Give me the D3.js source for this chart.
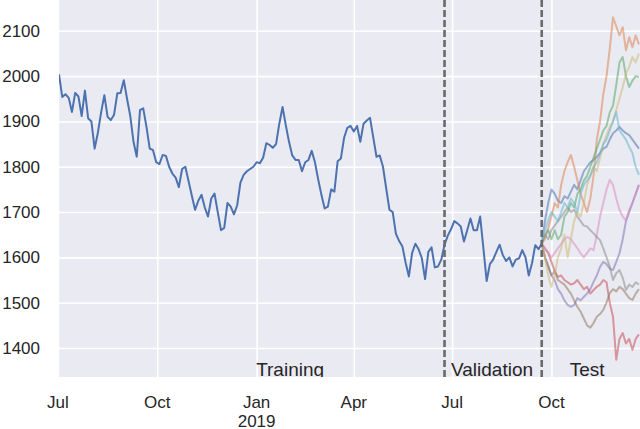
<!DOCTYPE html>
<html>
<head>
<meta charset="utf-8">
<script src="https://cdn.jsdelivr.net/npm/d3@7"></script>
<style>
  html, body { margin: 0; padding: 0; background: #ffffff; }
  svg { display: block; }
  text { font-family: "Liberation Sans", Arial, sans-serif; fill: #262626; }
</style>
</head>
<body>
<svg id="chart" width="640" height="429"></svg>
<script>
// ---------------- DATA ----------------
const seriesStart = "2018-07-02";   // first observation
const stepDays = 3;                 // spacing between observations (days)

// observed index (training + validation), one value per step
const observed = [
  2004, 1954, 1960, 1952, 1921, 1963, 1955, 1912, 1968, 1907,
  1900, 1840, 1875, 1920, 1958, 1910, 1903, 1915, 1962, 1963,
  1991, 1950, 1912, 1855, 1822, 1925, 1929, 1888, 1840, 1837,
  1810, 1806, 1826, 1824, 1800, 1785, 1776, 1755, 1795, 1800,
  1768, 1736, 1705, 1725, 1738, 1710, 1690, 1730, 1741, 1700,
  1660, 1665, 1720, 1712, 1695, 1715, 1765, 1782, 1790, 1795,
  1800, 1810, 1808, 1820, 1852, 1848, 1842, 1850, 1895, 1932,
  1892, 1855, 1825, 1815, 1815, 1790, 1810, 1815, 1835, 1810,
  1772, 1738, 1708, 1712, 1750, 1745, 1812, 1818, 1864, 1886,
  1890, 1878, 1890, 1855, 1895, 1902, 1908, 1865, 1822, 1825,
  1800, 1752, 1705, 1700, 1652, 1636, 1624, 1588, 1558, 1610,
  1630, 1618, 1598, 1552, 1612, 1622, 1578, 1580, 1595, 1628,
  1648, 1662, 1680, 1675, 1668, 1635, 1660, 1686, 1660, 1660,
  1690, 1620, 1548, 1585, 1595, 1612, 1628, 1605, 1592, 1600,
  1580, 1595, 1598, 1616, 1600, 1560, 1587, 1627, 1618, 1630
];

// simulated test paths, starting at the last observed point, same spacing
const testBlue   = [1630,1680,1720,1750,1740,1725,1720,1735,1730,1745,1760,1750,1770,1790,1800,1810,1815,1822,1830,1840,1844,1860,1874,1880,1888,1880,1874,1870,1860,1850,1840];
const testOrange = [1630,1640,1665,1690,1720,1710,1760,1790,1810,1826,1800,1770,1740,1720,1700,1730,1780,1860,1900,1960,2000,2060,2130,2110,2090,2108,2057,2086,2064,2090,2070];
const testGreen  = [1630,1650,1660,1640,1660,1640,1650,1690,1700,1720,1710,1740,1750,1770,1780,1800,1820,1840,1860,1880,1890,1920,1935,1980,2030,2042,2000,1976,1990,2000,1998];
const testRed    = [1630,1620,1610,1590,1570,1557,1560,1550,1545,1540,1543,1550,1540,1530,1535,1520,1528,1535,1540,1550,1545,1500,1469,1374,1420,1433,1410,1420,1396,1420,1430];
const testPurple = [1630,1600,1580,1560,1550,1530,1520,1505,1495,1491,1495,1510,1505,1513,1520,1530,1546,1560,1579,1590,1585,1575,1572,1590,1609,1640,1680,1700,1720,1740,1760];
const testBrown  = [1630,1600,1580,1560,1570,1550,1545,1540,1530,1520,1505,1491,1480,1465,1450,1445,1455,1469,1475,1484,1500,1521,1530,1525,1535,1530,1520,1510,1506,1520,1530];
const testPink   = [1630,1620,1610,1600,1610,1620,1630,1640,1645,1640,1630,1620,1609,1600,1610,1620,1616,1650,1690,1720,1750,1771,1760,1730,1705,1690,1682,1705,1720,1740,1760];
const testGray   = [1630,1650,1640,1660,1670,1680,1690,1700,1710,1700,1705,1690,1680,1670,1668,1660,1653,1645,1638,1620,1600,1580,1550,1565,1572,1555,1528,1540,1535,1545,1540];
const testYellow = [1630,1600,1560,1535,1560,1600,1620,1650,1600,1640,1680,1700,1690,1720,1760,1780,1800,1790,1820,1850,1870,1888,1900,1925,1950,1976,2006,2020,2042,2030,2050];
const testCyan   = [1630,1660,1682,1700,1690,1680,1700,1720,1710,1730,1720,1700,1740,1760,1770,1780,1800,1810,1830,1850,1860,1880,1900,1921,1880,1870,1860,1844,1830,1800,1782];

const testPaths  = [testBlue, testOrange, testGreen, testRed, testPurple, testBrown, testPink, testGray, testYellow, testCyan];
const testColors = ["#4C72B0","#DD8452","#55A868","#C44E52","#8172B3","#937860","#DA8BC3","#8C8C8C","#CCB974","#64B5CD"];

// split boundaries and labels
const splitDates = ["2019-06-24", "2019-09-22"];
const splitLabels = ["Training", "Validation", "Test"];
const splitLabelDates = ["2019-02-01", "2019-08-07", "2019-11-03"];

// axes
const xTickDates = ["2018-07-01", "2018-10-01", "2019-01-01", "2019-04-01", "2019-07-01", "2019-10-01"];
const xTickLabels = ["Jul", "Oct", "Jan\n2019", "Apr", "Jul", "Oct"];
const yTicks = [1400, 1500, 1600, 1700, 1800, 1900, 2000, 2100];
const xDomain = ["2018-07-02", "2019-12-22"];
const yDomain = [1336, 2168];

// ---------------- CHART ----------------
const parse = d3.timeParse("%Y-%m-%d");
const svg = d3.select("#chart");
const plot = { left: 59, right: 640, top: 0, bottom: 377 };

const x = d3.scaleTime().domain(xDomain.map(parse)).range([plot.left, plot.right]);
const y = d3.scaleLinear().domain(yDomain).range([plot.bottom, plot.top]);

const t0 = parse(seriesStart);
const dateAt = i => d3.timeDay.offset(t0, i * stepDays);

svg.append("defs").append("clipPath").attr("id", "clip")
  .append("rect").attr("x", plot.left).attr("y", plot.top)
  .attr("width", plot.right - plot.left).attr("height", plot.bottom - plot.top);

svg.append("rect").attr("x", plot.left).attr("y", plot.top)
  .attr("width", plot.right - plot.left).attr("height", plot.bottom - plot.top)
  .attr("fill", "#EAEAF2");

const g = svg.append("g").attr("clip-path", "url(#clip)");

// grid
const xTicks = xTickDates.map(parse);
const xAxisGrid = d3.axisBottom(x).tickValues(xTicks).tickSize(-(plot.bottom - plot.top)).tickFormat("");
const gx = g.append("g").attr("transform", `translate(0,${plot.bottom})`).call(xAxisGrid);
gx.select(".domain").remove();
gx.selectAll("line").attr("stroke", "#ffffff").attr("stroke-width", 1.6);

const yAxisGrid = d3.axisLeft(y).tickValues(yTicks).tickSize(-(plot.right - plot.left)).tickFormat("");
const gy = g.append("g").attr("transform", `translate(${plot.left},0)`).call(yAxisGrid);
gy.select(".domain").remove();
gy.selectAll("line").attr("stroke", "#ffffff").attr("stroke-width", 1.6);

// lines
const line = d3.line().x(d => x(d.date)).y(d => y(d.value));
const obsData = observed.map((v, i) => ({ date: dateAt(i), value: v }));
g.append("path").datum(obsData).attr("d", line)
  .attr("fill", "none").attr("stroke", "#4C72B0").attr("stroke-width", 2)
  .attr("stroke-linejoin", "round");

const testStartIndex = observed.length - 1;
testPaths.forEach((vals, k) => {
  const data = vals.map((v, i) => ({ date: dateAt(testStartIndex + i), value: v }));
  g.append("path").datum(data).attr("d", line)
    .attr("fill", "none").attr("stroke", testColors[k]).attr("stroke-width", 2)
    .attr("stroke-opacity", 0.55).attr("stroke-linejoin", "round");
});

// split markers
splitDates.map(parse).forEach(d => {
  g.append("line").attr("x1", x(d)).attr("x2", x(d))
    .attr("y1", plot.top).attr("y2", plot.bottom)
    .attr("stroke", "#6a6a6a").attr("stroke-width", 2.6)
    .attr("stroke-dasharray", "7,3");
});

// split labels
splitLabels.forEach((lab, i) => {
  g.append("text").attr("x", x(parse(splitLabelDates[i]))).attr("y", 375.5)
    .attr("text-anchor", "middle").attr("font-size", 19).text(lab);
});

// x tick labels
const xLab = svg.append("g");
xTicks.forEach((d, i) => {
  const parts = xTickLabels[i].split("\n");
  const t = xLab.append("text").attr("text-anchor", "middle").attr("font-size", 17);
  parts.forEach((p, j) => {
    t.append("tspan").attr("x", x(d)).attr("y", 408 + j * 18.5).text(p);
  });
});

// y tick labels
const yLab = svg.append("g");
yTicks.forEach(v => {
  yLab.append("text").attr("x", 40).attr("y", y(v)).attr("dy", "0.35em")
    .attr("text-anchor", "end").attr("font-size", 17).text(v);
});
</script>
</body>
</html>
